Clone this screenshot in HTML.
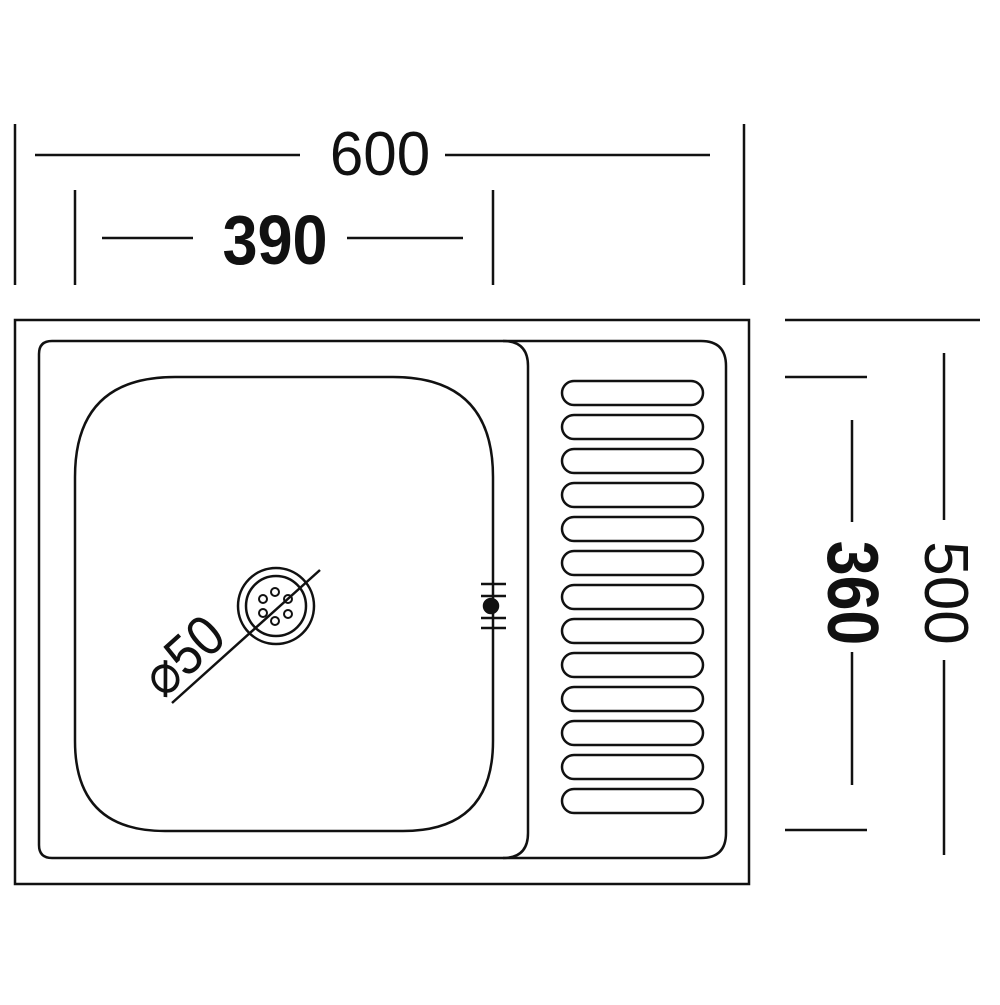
<!DOCTYPE html><html><head><style>body{margin:0;background:#fff}</style></head><body>
<svg width="1000" height="1000" viewBox="0 0 1000 1000" xmlns="http://www.w3.org/2000/svg" fill="none" stroke="#111" stroke-width="2.5">
<rect x="15" y="320" width="734" height="564"/>
<path d="M52 341 H701 Q726 341 726 366 V833 Q726 858 701 858 H52 Q39 858 39 845 V354 Q39 341 52 341 Z"/>
<path d="M503 341 Q528 341 528 366 V833 Q528 858 503 858"/>
<path d="M175 377 H393 Q493 377 493 477 V741 Q493 831 403 831 H165 Q75 831 75 741 V477 Q75 377 175 377 Z"/>
<g>
<rect x="562" y="381" width="141" height="24" rx="12"/><rect x="562" y="415" width="141" height="24" rx="12"/><rect x="562" y="449" width="141" height="24" rx="12"/><rect x="562" y="483" width="141" height="24" rx="12"/><rect x="562" y="517" width="141" height="24" rx="12"/><rect x="562" y="551" width="141" height="24" rx="12"/><rect x="562" y="585" width="141" height="24" rx="12"/><rect x="562" y="619" width="141" height="24" rx="12"/><rect x="562" y="653" width="141" height="24" rx="12"/><rect x="562" y="687" width="141" height="24" rx="12"/><rect x="562" y="721" width="141" height="24" rx="12"/><rect x="562" y="755" width="141" height="24" rx="12"/><rect x="562" y="789" width="141" height="24" rx="12"/>
</g>
<circle cx="276" cy="606" r="38"/><circle cx="276" cy="606" r="30"/>
<g stroke-width="2"><circle cx="275" cy="592" r="4"/><circle cx="288" cy="599" r="4"/><circle cx="288" cy="614" r="4"/><circle cx="275" cy="621" r="4"/><circle cx="263" cy="613" r="4"/><circle cx="263" cy="599" r="4"/></g>
<line x1="172" y1="703" x2="320" y2="570"/>
<text x="0" y="0" transform="translate(196,670) rotate(-42) scale(0.95,1.05)" text-anchor="middle" font-family="Liberation Sans, sans-serif" font-size="54" fill="#111" stroke="none">⌀50</text>
<line x1="481" y1="584" x2="506" y2="584"/><line x1="481" y1="596" x2="506" y2="596"/><line x1="481" y1="618" x2="506" y2="618"/><line x1="481" y1="628" x2="506" y2="628"/>
<circle cx="491" cy="606" r="7" fill="#111"/>
<line x1="15" y1="124" x2="15" y2="285"/><line x1="744" y1="124" x2="744" y2="285"/>
<line x1="35" y1="155" x2="300" y2="155"/><line x1="445" y1="155" x2="710" y2="155"/>
<line x1="75" y1="190" x2="75" y2="285"/><line x1="493" y1="190" x2="493" y2="285"/>
<line x1="102" y1="238" x2="193" y2="238"/><line x1="347" y1="238" x2="463" y2="238"/>
<line x1="785" y1="320" x2="980" y2="320"/><line x1="785" y1="377" x2="867" y2="377"/><line x1="785" y1="830" x2="867" y2="830"/>
<line x1="852" y1="420" x2="852" y2="522"/><line x1="852" y1="652" x2="852" y2="785"/>
<line x1="944" y1="353" x2="944" y2="520"/><line x1="944" y1="660" x2="944" y2="855"/>
<g fill="#111" stroke="none" font-family="Liberation Sans, sans-serif" text-anchor="middle">
<text transform="translate(380,175) scale(0.97,1)" font-size="62">600</text>
<text transform="translate(275,264) scale(0.9,1)" font-size="70" font-weight="bold">390</text>
<text transform="translate(828,593) rotate(90) scale(0.87,1)" font-size="72" font-weight="bold">360</text>
<text transform="translate(925,593) rotate(90)" font-size="62">500</text>
</g>
</svg>
</body></html>
